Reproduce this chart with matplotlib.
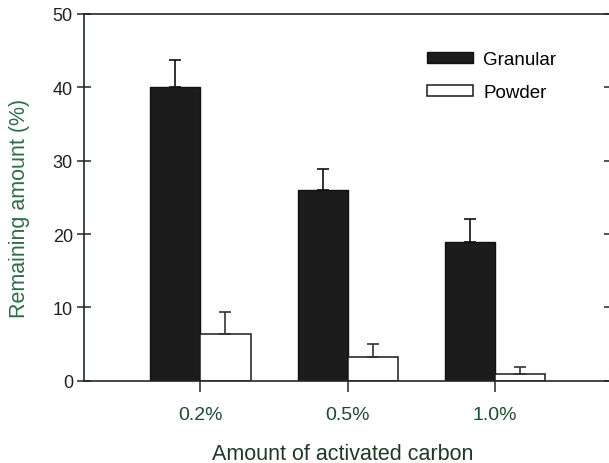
import numpy as np
import matplotlib.pyplot as plt

plt.rcParams['font.family'] = ['Liberation Sans', 'DejaVu Sans']

# Datos
dosis = ['0.2%', '0.5%', '1.0%']
granular = [40.0, 26.0, 18.9]
granular_err = [3.7, 2.8, 3.2]
powder = [6.4, 3.2, 1.0]
powder_err = [3.0, 1.8, 0.9]

color_eje = '#1f2a22'
x = np.arange(len(dosis))
ancho = 0.34

fig = plt.figure(figsize=(6.09, 4.64), dpi=100)
ax = fig.add_axes([0.138, 0.177, 0.866, 0.791])

ax.bar(x - ancho / 2, granular, ancho, color='#1c1c1c', edgecolor='#111111',
       linewidth=1.0, label='Granular',
       yerr=[np.zeros(3), granular_err], capsize=4,
       error_kw=dict(ecolor='#111111', elinewidth=1.2, capthick=1.2))
ax.bar(x + ancho / 2, powder, ancho, color='white', edgecolor='#1a1a1a',
       linewidth=1.1, label='Powder',
       yerr=[np.zeros(3), powder_err], capsize=4,
       error_kw=dict(ecolor='#333333', elinewidth=1.2, capthick=1.2))

ax.set_xlim(-0.79, 2.79)
ax.set_ylim(0, 50)
ax.set_yticks([0, 10, 20, 30, 40, 50])
ax.set_xticks(x)
ax.set_xticklabels(dosis)

for s in ax.spines.values():
    s.set_color(color_eje)
    s.set_linewidth(1.2)

ax.tick_params(axis='y', direction='inout', length=10, width=1.1,
               color=color_eje, labelsize=13, pad=3, right=True,
               labelcolor='#222222')
ax.tick_params(axis='x', direction='out', length=8, width=1.1,
               color=color_eje, labelsize=14, pad=10, labelcolor='#1e4a2e')

ax.set_xlabel('Amount of activated carbon', fontsize=15.5, color='#1e3a26')
ax.xaxis.set_label_coords(0.49, -0.168)
ax.set_ylabel('Remaining amount (%)', fontsize=15.5, color='#2e6e46')
ax.yaxis.set_label_coords(-0.102, 0.473)

ax.legend(loc='upper left', bbox_to_anchor=(0.637, 0.918), frameon=False,
          fontsize=13.5, handlelength=2.45, handleheight=0.53,
          labelspacing=0.85, handletextpad=0.53, borderaxespad=0)

plt.savefig('out.png', dpi=100)
